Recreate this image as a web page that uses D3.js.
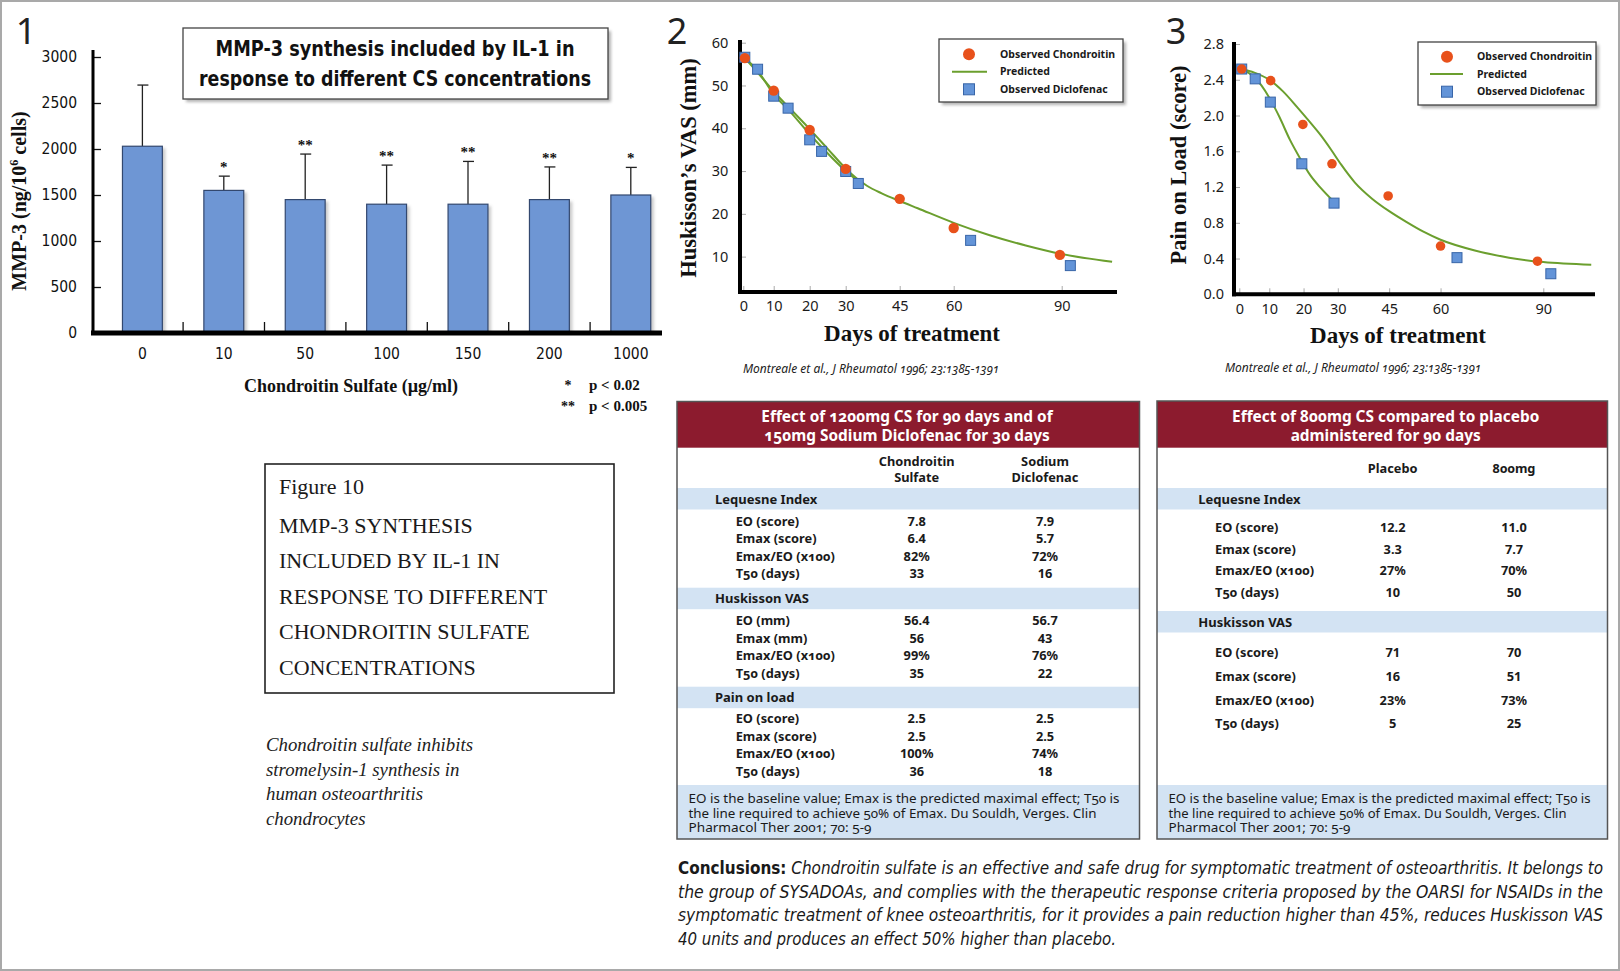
<!DOCTYPE html>
<html>
<head>
<meta charset="utf-8">
<script src="https://cdn.jsdelivr.net/npm/d3@7"></script>
<style>
  body { margin: 0; background: #fff; }
  svg { display: block; }
  .serif { font-family: 'Liberation Serif', 'DejaVu Serif', serif; }
  .narrow { font-family: 'Liberation Sans Narrow', 'DejaVu Sans Condensed', 'Noto Sans', sans-serif; }
  .sans { font-family: 'Noto Sans', 'Open Sans', sans-serif; }
  .osf { font-variant-numeric: oldstyle-nums; }
</style>
</head>
<body>
<svg id="fig" width="1620" height="971"></svg>
<script>
// panel 1 - MMP-3 bars
const csConc = ["0", "10", "50", "100", "150", "200", "1000"];
const mmp3Mean = [2030, 1550, 1450, 1400, 1400, 1450, 1500];
const mmp3Upper = [2695, 1705, 1945, 1825, 1865, 1805, 1800];
const mmp3Stars = ["", "*", "**", "**", "**", "**", "*"];
const mmp3Ticks = [0, 500, 1000, 1500, 2000, 2500, 3000];

// panels 2 and 3 - days of treatment
const dayTicks = [0, 10, 20, 30, 45, 60, 90];
const vasTicks = [10, 20, 30, 40, 50, 60];
const vasChondroitin = [[0.5, 56.4], [10, 48.8], [20, 39.6], [30, 30.5], [45, 23.5], [60, 16.7], [89.5, 10.4]];
const vasDiclofenac = [[0.5, 56.6], [4.7, 53.8], [10, 47.5], [14, 44.7], [20, 37.3], [23.3, 34.6], [30, 29.9], [33.5, 27.1], [64.7, 13.8], [92.4, 7.9]];
const vasPredChondroitin = [[0.5, 56.4], [5, 52.8], [10, 48.6], [15, 44.2], [20, 39.8], [25, 35.2], [30, 30.6], [33, 28.3], [36, 26.5], [40, 24.8], [45, 23.0], [50, 21.3], [60, 17.9], [70, 15.0], [80, 12.6], [90, 10.6], [104, 8.8]];
const vasPredDiclofenac = [[0.5, 56.4], [5, 53.2], [10, 47.9], [14, 44.4], [20, 38.6], [24, 35.0], [30, 30.0], [33.5, 27.6]];
const painTicks = [0, 0.4, 0.8, 1.2, 1.6, 2.0, 2.4, 2.8];
const painChondroitin = [[0.8, 2.52], [10.4, 2.39], [19.8, 1.9], [28.3, 1.46], [44.7, 1.1], [60, 0.54], [88.3, 0.37]];
const painDiclofenac = [[0.8, 2.52], [5.3, 2.41], [10.3, 2.15], [19.5, 1.46], [28.9, 1.02], [64.8, 0.41], [92.2, 0.23]];
const painPredChondroitin = [[0.8, 2.52], [5, 2.48], [10, 2.40], [14, 2.27], [18, 2.10], [22, 1.92], [25, 1.78], [28, 1.62], [31, 1.45], [35, 1.25], [40, 1.07], [45, 0.93], [50, 0.81], [55, 0.70], [60, 0.61], [70, 0.49], [80, 0.41], [90, 0.36], [104, 0.33]];
const painPredDiclofenac = [[0.8, 2.52], [5, 2.43], [10, 2.20], [13, 1.98], [16, 1.73], [19, 1.52], [22, 1.33], [25, 1.19], [29, 1.03]];
const legendLabels = ["Observed Chondroitin", "Predicted", "Observed Diclofenac"];

// tables
const t1Title = ["Effect of 1200mg CS for 90 days and of", "150mg Sodium Diclofenac for 30 days"];
const t1Columns = [["Chondroitin", "Sulfate"], ["Sodium", "Diclofenac"]];
const t1Sections = ["Lequesne Index", "Huskisson VAS", "Pain on load"];
const t1RowLabels = [["EO (score)", "Emax (score)", "Emax/EO (x100)", "T50 (days)"], ["EO (mm)", "Emax (mm)", "Emax/EO (x100)", "T50 (days)"], ["EO (score)", "Emax (score)", "Emax/EO (x100)", "T50 (days)"]];
const t1Chondroitin = [["7.8", "6.4", "82%", "33"], ["56.4", "56", "99%", "35"], ["2.5", "2.5", "100%", "36"]];
const t1Diclofenac = [["7.9", "5.7", "72%", "16"], ["56.7", "43", "76%", "22"], ["2.5", "2.5", "74%", "18"]];
const t2Title = ["Effect of 800mg CS compared to placebo", "administered for 90 days"];
const t2Columns = [["Placebo"], ["800mg"]];
const t2Sections = ["Lequesne Index", "Huskisson VAS"];
const t2RowLabels = [["EO (score)", "Emax (score)", "Emax/EO (x100)", "T50 (days)"], ["EO (score)", "Emax (score)", "Emax/EO (x100)", "T50 (days)"]];
const t2Placebo = [["12.2", "3.3", "27%", "10"], ["71", "16", "23%", "5"]];
const t2Dose800 = [["11.0", "7.7", "70%", "50"], ["70", "51", "73%", "25"]];
const footnote = ["EO is the baseline value; Emax is the predicted maximal effect; T50 is", "the line required to achieve 50% of Emax. Du Souldh, Verges. Clin", "Pharmacol Ther 2001; 70: 5-9"];

const figLines = ["Figure 10", "MMP-3 SYNTHESIS", "INCLUDED BY IL-1 IN", "RESPONSE TO DIFFERENT", "CHONDROITIN SULFATE", "CONCENTRATIONS"];
const captionLines = ["Chondroitin sulfate inhibits", "stromelysin-1 synthesis in", "human osteoarthritis", "chondrocytes"];
const conclusionLines = [
  " Chondroitin sulfate is an effective and safe drug for symptomatic treatment of osteoarthritis. It belongs to",
  "the group of SYSADOAs, and complies with the therapeutic response criteria proposed by the OARSI for NSAIDs in the",
  "symptomatic treatment of knee osteoarthritis, for it provides a pain reduction higher than 45%, reduces Huskisson VAS",
  "40 units and produces an effect 50% higher than placebo."
];

const RED = "#8c1b2e", BAND = "#d3e3f3", GREEN = "#6b9f2e", ORANGE = "#e8511b", BLUE = "#6394d8";

const svg = d3.select("#fig");
svg.append("rect").attr("x", 1).attr("y", 1).attr("width", 1618).attr("height", 969)
  .attr("fill", "#fff").attr("stroke", "#a9a9a9").attr("stroke-width", 2);

const defs = svg.append("defs");
defs.append("filter").attr("id", "blur").append("feGaussianBlur").attr("stdDeviation", 1.8);

function shadowBox(g, x, y, w, h) {
  g.append("rect").attr("x", x + 3).attr("y", y + 3).attr("width", w).attr("height", h)
    .attr("fill", "#777").attr("opacity", 0.55).attr("filter", "url(#blur)");
  g.append("rect").attr("x", x).attr("y", y).attr("width", w).attr("height", h)
    .attr("fill", "#fff").attr("stroke", "#444").attr("stroke-width", 1.3);
}

// big panel numbers
[["1", 26], ["2", 677], ["3", 1176]].forEach(function(p) {
  svg.append("text").attr("class", "sans").attr("x", p[1]).attr("y", 44)
    .attr("text-anchor", "middle").attr("font-size", 36).attr("fill", "#222").text(p[0]);
});

// ---------- panel 1
const p1 = svg.append("g");
const x1 = d3.scaleBand().domain(csConc).range([101.7, 671.5]).paddingInner(0.51).paddingOuter(0.255);
const y1 = d3.scaleLinear().domain([0, 3000]).range([333, 57]);

const ax1 = p1.append("g").attr("transform", "translate(93,0)")
  .call(d3.axisLeft(y1).tickValues(mmp3Ticks).tickFormat(d3.format("d")).tickSizeInner(-8).tickSizeOuter(0).tickPadding(16));
ax1.select(".domain").remove();
ax1.selectAll("line").attr("stroke", "#111").attr("stroke-width", 1.3);
ax1.selectAll("text").attr("class", "narrow").attr("font-size", 15.5).attr("fill", "#111");

shadowBox(p1, 183, 28, 425, 71);
const titleWidths = [359, 392];
p1.selectAll(".t1").data(["MMP-3 synthesis included by IL-1 in", "response to different CS concentrations"])
  .enter().append("text").attr("class", "narrow").attr("font-weight", "bold").attr("font-size", 21)
  .attr("text-anchor", "middle").attr("fill", "#111")
  .attr("x", 395).attr("y", function(d, i) { return 56 + i * 30; })
  .attr("textLength", function(d, i) { return titleWidths[i]; }).attr("lengthAdjust", "spacingAndGlyphs")
  .text(function(d) { return d; });

const bw = x1.bandwidth();
const bars = p1.selectAll(".bar").data(csConc).enter().append("g");
bars.append("rect")
  .attr("x", function(d) { return x1(d) + 3; })
  .attr("y", function(d, i) { return y1(mmp3Mean[i]) + 2; })
  .attr("width", bw).attr("height", function(d, i) { return 333 - y1(mmp3Mean[i]) - 2; })
  .attr("fill", "#888").attr("opacity", 0.45).attr("filter", "url(#blur)");
bars.append("line")
  .attr("x1", function(d) { return x1(d) + bw / 2; }).attr("x2", function(d) { return x1(d) + bw / 2; })
  .attr("y1", function(d, i) { return y1(mmp3Mean[i]); }).attr("y2", function(d, i) { return y1(mmp3Upper[i]); })
  .attr("stroke", "#222").attr("stroke-width", 1.3);
bars.append("line")
  .attr("x1", function(d) { return x1(d) + bw / 2 - 5; }).attr("x2", function(d) { return x1(d) + bw / 2 + 6; })
  .attr("y1", function(d, i) { return y1(mmp3Upper[i]); }).attr("y2", function(d, i) { return y1(mmp3Upper[i]); })
  .attr("stroke", "#222").attr("stroke-width", 1.3);
bars.append("rect")
  .attr("x", function(d) { return x1(d); })
  .attr("y", function(d, i) { return y1(mmp3Mean[i]); })
  .attr("width", bw).attr("height", function(d, i) { return 333 - y1(mmp3Mean[i]); })
  .attr("fill", "#6e96d4").attr("stroke", "#33486f").attr("stroke-width", 1.2);
bars.append("text").attr("class", "serif").attr("font-weight", "bold").attr("font-size", 15)
  .attr("text-anchor", "middle").attr("fill", "#111")
  .attr("x", function(d) { return x1(d) + bw / 2; })
  .attr("y", function(d, i) { return y1(mmp3Upper[i]) - 4; })
  .text(function(d, i) { return mmp3Stars[i]; });
bars.append("text").attr("class", "narrow").attr("font-size", 15.5).attr("text-anchor", "middle").attr("fill", "#111")
  .attr("x", function(d) { return x1(d) + bw / 2; }).attr("y", 359)
  .text(function(d) { return d; });
// separators between categories
p1.selectAll(".sep").data(csConc.slice(1)).enter().append("line")
  .attr("x1", function(d) { return x1(d) - (x1.step() - bw) / 2; })
  .attr("x2", function(d) { return x1(d) - (x1.step() - bw) / 2; })
  .attr("y1", 333).attr("y2", 322).attr("stroke", "#111").attr("stroke-width", 1.3);

p1.append("line").attr("x1", 93).attr("x2", 93).attr("y1", 50).attr("y2", 335).attr("stroke", "#000").attr("stroke-width", 3);
p1.append("line").attr("x1", 91).attr("x2", 662).attr("y1", 333).attr("y2", 333).attr("stroke", "#000").attr("stroke-width", 5);

const yl1 = p1.append("text").attr("class", "serif").attr("font-weight", "bold").attr("font-size", 20)
  .attr("text-anchor", "middle").attr("fill", "#111").attr("transform", "translate(26,201) rotate(-90)");
yl1.append("tspan").text("MMP-3 (ng/10");
yl1.append("tspan").attr("font-size", 12).attr("dy", -8).text("6");
yl1.append("tspan").attr("dy", 8).text(" cells)");
p1.append("text").attr("class", "serif").attr("font-weight", "bold").attr("font-size", 18)
  .attr("text-anchor", "middle").attr("fill", "#111").attr("x", 351).attr("y", 392)
  .text("Chondroitin Sulfate (\u00b5g/ml)");
[["*", "p < 0.02", 390], ["**", "p < 0.005", 411]].forEach(function(r) {
  p1.append("text").attr("class", "serif").attr("font-weight", "bold").attr("font-size", 14)
    .attr("text-anchor", "middle").attr("x", 568).attr("y", r[2]).attr("fill", "#111").text(r[0]);
  p1.append("text").attr("class", "serif").attr("font-weight", "bold").attr("font-size", 15)
    .attr("x", 589).attr("y", r[2]).attr("fill", "#111").text(r[1]);
});

// figure 10 caption box
const fb = svg.append("g");
fb.append("rect").attr("x", 265).attr("y", 464).attr("width", 349).attr("height", 229)
  .attr("fill", "none").attr("stroke", "#222").attr("stroke-width", 1.6);
fb.selectAll(".fl").data(figLines).enter().append("text").attr("class", "serif")
  .attr("x", 279).attr("y", function(d, i) { return i === 0 ? 494 : 533 + (i - 1) * 35.4; })
  .attr("font-size", 22).attr("fill", "#1a1a1a").text(function(d) { return d; });
fb.selectAll(".cl").data(captionLines).enter().append("text").attr("class", "serif")
  .attr("x", 266).attr("y", function(d, i) { return 751 + i * 24.5; })
  .attr("font-size", 18.8).attr("font-style", "italic").attr("fill", "#222").text(function(d) { return d; });

// ---------- panels 2 and 3
function curveChart(cfg) {
  const g = svg.append("g");
  const x = d3.scaleLinear().domain([0, 10, 90]).range(cfg.xr);
  const y = d3.scaleLinear().domain(cfg.yDomain).range(cfg.yr);

  const xa = g.append("g").attr("transform", "translate(0," + cfg.axisY + ")")
    .call(d3.axisBottom(x).tickValues(dayTicks).tickSizeInner(-6).tickSizeOuter(0).tickPadding(9));
  const ya = g.append("g").attr("transform", "translate(" + cfg.axisX + ",0)")
    .call(d3.axisLeft(y).tickValues(cfg.yTicks).tickFormat(cfg.yFormat).tickSizeInner(-6).tickSizeOuter(0).tickPadding(cfg.yPad));
  [xa, ya].forEach(function(a) {
    a.select(".domain").remove();
    a.selectAll("line").attr("stroke", "#aaa").attr("stroke-width", 1);
    a.selectAll("text").attr("class", "sans").attr("font-size", 14.5).attr("fill", "#1a1a1a");
  });

  g.append("line").attr("x1", cfg.axisX).attr("x2", cfg.axisX).attr("y1", cfg.axisTop).attr("y2", cfg.axisY + 2)
    .attr("stroke", "#000").attr("stroke-width", 4);
  g.append("line").attr("x1", cfg.axisX - 2).attr("x2", cfg.axisRight).attr("y1", cfg.axisY).attr("y2", cfg.axisY)
    .attr("stroke", "#000").attr("stroke-width", 4);

  const line = d3.line().x(function(d) { return x(d[0]); }).y(function(d) { return y(d[1]); }).curve(d3.curveMonotoneX);
  [cfg.predA, cfg.predB].forEach(function(p) {
    g.append("path").datum(p).attr("d", line).attr("fill", "none").attr("stroke", GREEN).attr("stroke-width", 2);
  });
  g.selectAll(".sq").data(cfg.sq).enter().append("rect")
    .attr("x", function(d) { return x(d[0]) - 5; }).attr("y", function(d) { return y(d[1]) - 5; })
    .attr("width", 10).attr("height", 10).attr("fill", BLUE).attr("stroke", "#3865a8").attr("stroke-width", 1);
  g.selectAll(".ci").data(cfg.ci).enter().append("circle")
    .attr("cx", function(d) { return x(d[0]); }).attr("cy", function(d) { return y(d[1]); })
    .attr("r", cfg.r).attr("fill", ORANGE);

  g.append("text").attr("class", "serif").attr("font-weight", "bold").attr("font-size", 22.5)
    .attr("text-anchor", "middle").attr("fill", "#111")
    .attr("transform", "translate(" + cfg.yLabelX + "," + cfg.yLabelY + ") rotate(-90)").text(cfg.yLabel);
  g.append("text").attr("class", "serif").attr("font-weight", "bold").attr("font-size", 23)
    .attr("text-anchor", "middle").attr("fill", "#111").attr("x", cfg.xLabelX).attr("y", cfg.xLabelY)
    .text("Days of treatment");
  g.append("text").attr("class", "sans osf").attr("font-style", "italic").attr("font-size", 12)
    .attr("text-anchor", "middle").attr("fill", "#222").attr("x", cfg.citeX).attr("y", cfg.citeY)
    .text("Montreale et al., J Rheumatol 1996; 23:1385-1391");

  const L = cfg.legend;
  shadowBox(g, L.x, L.y, L.w, L.h);
  g.append("circle").attr("cx", L.mx).attr("cy", L.ys[0]).attr("r", 6).attr("fill", ORANGE);
  g.append("line").attr("x1", L.lx[0]).attr("x2", L.lx[1]).attr("y1", L.ys[1]).attr("y2", L.ys[1])
    .attr("stroke", GREEN).attr("stroke-width", 2);
  g.append("rect").attr("x", L.mx - 5.5).attr("y", L.ys[2] - 5.5).attr("width", 11).attr("height", 11)
    .attr("fill", BLUE).attr("stroke", "#3865a8");
  g.selectAll(".lt").data(legendLabels).enter().append("text").attr("class", "sans")
    .attr("x", L.tx).attr("y", function(d, i) { return L.ys[i]; }).attr("dy", "0.35em")
    .attr("font-size", 10.5).attr("font-weight", "bold").attr("fill", "#1a1a1a").text(function(d) { return d; });
}

curveChart({
  xr: [743.3, 773.7, 1061.7], yDomain: [1.8, 60], yr: [291.7, 42.7],
  axisX: 740, axisY: 292, axisTop: 40, axisRight: 1117,
  yTicks: vasTicks, yFormat: d3.format("d"), yPad: 11.7,
  predA: vasPredChondroitin, predB: vasPredDiclofenac, ci: vasChondroitin, sq: vasDiclofenac, r: 5.2,
  yLabel: "Huskisson\u2019s VAS (mm)", yLabelX: 696, yLabelY: 168,
  xLabelX: 912, xLabelY: 341, citeX: 871, citeY: 373,
  legend: { x: 939, y: 39, w: 184, h: 63, mx: 969, lx: [952, 987], tx: 1000, ys: [54.3, 71.7, 89.3] }
});
curveChart({
  xr: [1239.3, 1269.3, 1543.3], yDomain: [0, 2.8], yr: [294.3, 44],
  axisX: 1234, axisY: 294.3, axisTop: 42, axisRight: 1595,
  yTicks: painTicks, yFormat: d3.format(".1f"), yPad: 10,
  predA: painPredChondroitin, predB: painPredDiclofenac, ci: painChondroitin, sq: painDiclofenac, r: 4.8,
  yLabel: "Pain on Load (score)", yLabelX: 1186, yLabelY: 165,
  xLabelX: 1398, xLabelY: 343, citeX: 1353, citeY: 372,
  legend: { x: 1418, y: 42, w: 178, h: 63, mx: 1447, lx: [1430, 1463], tx: 1477, ys: [56.7, 74, 91.7] }
});

// ---------- tables
function drawTable(cfg) {
  const g = svg.append("g");
  g.append("rect").attr("x", cfg.x).attr("y", cfg.y).attr("width", cfg.w).attr("height", cfg.h)
    .attr("fill", "#fff");
  g.append("rect").attr("x", cfg.x).attr("y", cfg.y).attr("width", cfg.w).attr("height", cfg.headH).attr("fill", RED);
  g.selectAll(".tt").data(cfg.title).enter().append("text").attr("class", "sans osf")
    .attr("x", cfg.titleX).attr("y", function(d, i) { return cfg.titleY[i]; }).attr("dy", "0.35em")
    .attr("text-anchor", "middle").attr("font-size", 15.4).attr("font-weight", "bold").attr("fill", "#fff")
    .text(function(d) { return d; });
  cfg.columns.forEach(function(c, ci) {
    c.forEach(function(t, li) {
      g.append("text").attr("class", "sans osf").attr("x", cfg.colX[ci]).attr("y", cfg.colY[li]).attr("dy", "0.35em")
        .attr("text-anchor", "middle").attr("font-size", 12.8).attr("font-weight", "bold").attr("fill", "#1a1a1a").text(t);
    });
  });
  cfg.sections.forEach(function(s, si) {
    const top = cfg.bandTop[si];
    g.append("rect").attr("x", cfg.x).attr("y", top).attr("width", cfg.w).attr("height", 21.5).attr("fill", BAND);
    g.append("text").attr("class", "sans").attr("x", cfg.secX).attr("y", top + 11).attr("dy", "0.35em")
      .attr("font-size", 13).attr("font-weight", "bold").attr("fill", "#1a1a1a").text(s);
    cfg.labels[si].forEach(function(lab, ri) {
      const yy = top + cfg.rowOff[si] + ri * cfg.rowStep[si];
      g.append("text").attr("class", "sans osf").attr("x", cfg.labX).attr("y", yy).attr("dy", "0.35em")
        .attr("font-size", 12.8).attr("font-weight", "bold").attr("fill", "#1a1a1a").text(lab);
      [cfg.a, cfg.b].forEach(function(vals, vi) {
        g.append("text").attr("class", "sans").attr("x", cfg.colX[vi]).attr("y", yy).attr("dy", "0.35em")
          .attr("text-anchor", "middle").attr("font-size", 12.8).attr("font-weight", "bold").attr("fill", "#1a1a1a")
          .text(vals[si][ri]);
      });
    });
  });
  g.append("rect").attr("x", cfg.x).attr("y", 785).attr("width", cfg.w).attr("height", cfg.y + cfg.h - 785).attr("fill", BAND);
  g.selectAll(".fn").data(footnote).enter().append("text").attr("class", "sans osf")
    .attr("x", cfg.x + 11.5).attr("y", function(d, i) { return 799 + i * 14.6; }).attr("dy", "0.35em")
    .attr("font-size", 12).attr("fill", "#1a1a1a")
    .attr("textLength", function(d, i) { return cfg.footW[i]; }).attr("lengthAdjust", "spacingAndGlyphs")
    .text(function(d) { return d; });
  g.append("rect").attr("x", cfg.x).attr("y", cfg.y).attr("width", cfg.w).attr("height", cfg.h)
    .attr("fill", "none").attr("stroke", "#555").attr("stroke-width", 1.5);
}

drawTable({
  x: 677, y: 401.5, w: 462.5, h: 437.5, headH: 46.2,
  title: t1Title, titleX: 907, titleY: [416.7, 435.7],
  columns: t1Columns, colX: [916.7, 1045], colY: [461.7, 477.3],
  sections: t1Sections, bandTop: [488, 587.7, 686.7], secX: 715,
  labels: t1RowLabels, labX: 735.7, rowOff: [33.5, 33.3, 32.3], rowStep: [17.5, 17.5, 17.5],
  a: t1Chondroitin, b: t1Diclofenac, footW: [431, 408, 183]
});
drawTable({
  x: 1157, y: 401, w: 450.5, h: 438, headH: 46.7,
  title: t2Title, titleX: 1385.7, titleY: [416.7, 435.7],
  columns: t2Columns, colX: [1392.7, 1514], colY: [469],
  sections: t2Sections, bandTop: [488, 611], secX: 1198.3,
  labels: t2RowLabels, labX: 1215, rowOff: [39.3, 41.3], rowStep: [21.8, 23.9],
  a: t2Placebo, b: t2Dose800, footW: [422, 398, 182]
});

// ---------- conclusions
const concWidths = [925, 925, 925, 438];
conclusionLines.forEach(function(t, i) {
  const tx = svg.append("text").attr("class", "narrow").attr("x", 678).attr("y", 874 + i * 23.7)
    .attr("font-size", 17).attr("fill", "#1a1a1a")
    .attr("textLength", concWidths[i]).attr("lengthAdjust", "spacingAndGlyphs");
  if (i === 0) tx.append("tspan").attr("font-weight", "bold").text("Conclusions:");
  tx.append("tspan").attr("font-style", "italic").text(t);
});
</script>
</body>
</html>
